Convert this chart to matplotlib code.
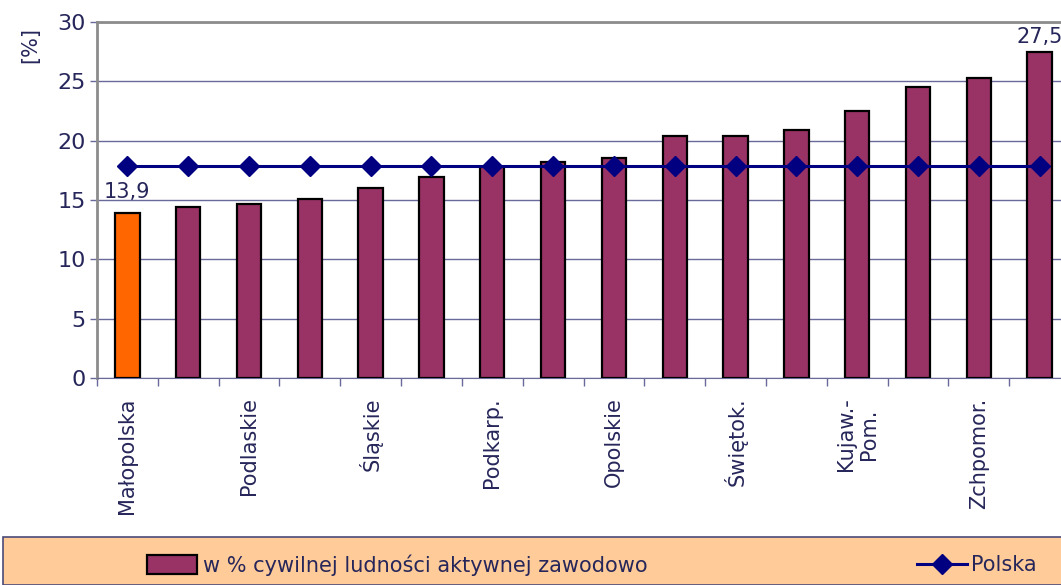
import matplotlib.pyplot as plt
from matplotlib.patches import Rectangle

# voivodeships (only every other one is labelled in the original chart)
regions = ['Małopolska', '', 'Podlaskie', '', 'Śląskie', '', 'Podkarp.', '',
           'Opolskie', '', 'Świętok.', '', 'Kujaw.-\nPom.', '', 'Zchpomor.', '']
values = [13.9, 14.4, 14.7, 15.1, 16.0, 16.9, 17.8, 18.2,
          18.5, 20.4, 20.4, 20.9, 22.5, 24.5, 25.3, 27.5]
polska = [17.9] * 16
yticks = [0, 5, 10, 15, 20, 25, 30]

txt = '#26265a'
plt.rcParams['font.family'] = 'DejaVu Sans'

fig = plt.figure(figsize=(10.61, 5.85), dpi=100)
ax = fig.add_axes([97/1061, 1 - 378/585, 973/1061, 356/585])

x = list(range(len(values)))
colors = ['#ff6600'] + ['#993366'] * (len(values) - 1)
bars = ax.bar(x, values, width=0.4, color=colors, edgecolor='black', linewidth=1.6, zorder=3)
line, = ax.plot(x, polska, color='#000080', linewidth=2.2, marker='D', markersize=10, zorder=4)

ax.set_xlim(-0.5, len(values) - 0.5)
ax.set_ylim(0, 30)
ax.set_yticks(yticks)
ax.set_yticklabels([str(v) for v in yticks], fontsize=16, color=txt)
ax.yaxis.grid(True, color='#6a6a9a', linewidth=1, zorder=0)

# tick marks on category boundaries, labels on centres
ax.set_xticks([i - 0.5 for i in range(len(values) + 1)])
ax.set_xticklabels([])
ax.set_xticks(x, minor=True)
ax.set_xticklabels(regions, minor=True, rotation=90, fontsize=15, color=txt,
                   va='top', ha='center', multialignment='center')
ax.tick_params(axis='x', which='major', length=6, color='#6a6a9a', width=1)
ax.tick_params(axis='x', which='minor', length=0, pad=14)
ax.tick_params(axis='y', length=5, color='#6a6a9a', width=1, pad=3)

for s in ['left', 'top']:
    ax.spines[s].set_color('#8c8c8c')
    ax.spines[s].set_linewidth(2)
ax.spines['bottom'].set_color('#6a6a9a')
ax.spines['right'].set_visible(False)

ax.text(0, values[0] + 0.9, '13,9', ha='center', va='bottom', fontsize=15, color=txt)
ax.text(len(values) - 1, values[-1] + 0.4, '27,5', ha='center', va='bottom', fontsize=15, color=txt)

fig.text(30/1061, 1 - 45/585, '[%]', rotation=90, ha='center', va='center', fontsize=15, color=txt)

# legend band
fig.patches.append(Rectangle((3/1061, 0), 1.0, 48/585, transform=fig.transFigure,
                             facecolor='#ffcc99', edgecolor='#4a4a7a', linewidth=1.2))
bar_handle = Rectangle((0, 0), 1, 1, facecolor='#993366', edgecolor='black', linewidth=1.6)
fig.legend([bar_handle], ['w % cywilnej ludności aktywnej zawodowo'], loc='center left',
           bbox_to_anchor=(128/1061, 20/585), frameon=False, fontsize=15,
           handlelength=2.4, handleheight=1.0, handletextpad=0.3, labelcolor=txt)
fig.legend([line], ['Polska'], loc='center left',
           bbox_to_anchor=(898/1061, 20/585), frameon=False, fontsize=15,
           handlelength=2.4, handletextpad=0.2, labelcolor=txt)

fig.savefig('out.png', dpi=100)
